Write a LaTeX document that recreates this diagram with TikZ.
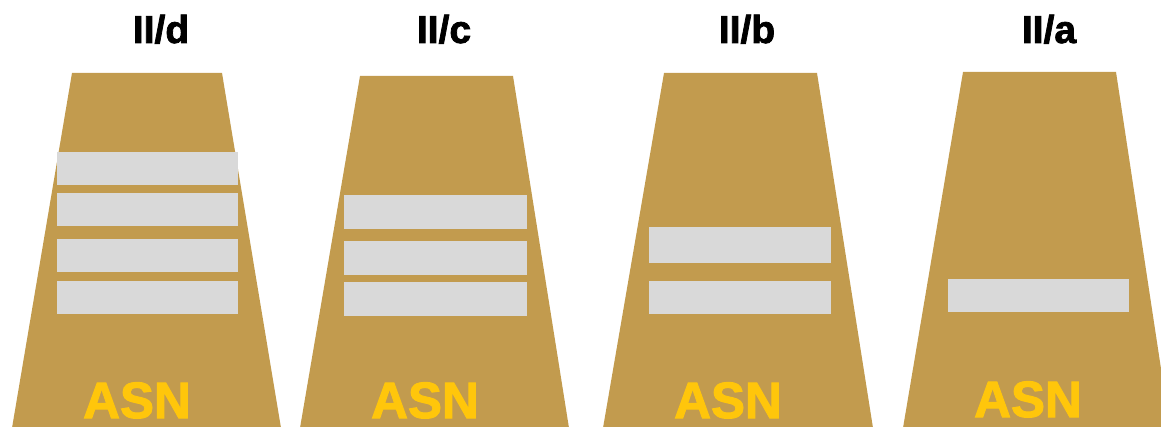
\documentclass[tikz,border=0pt]{standalone}
\usepackage{fontspec}
\setmainfont{Liberation Sans}[BoldFeatures={FakeBold=2}]
\definecolor{khaki}{HTML}{C29B4E}
\definecolor{silver}{HTML}{D9D9D9}
\definecolor{amber}{HTML}{FFC60B}
\tikzset{
  epaulette/.style={fill=khaki, draw=none},
  stripe/.style={fill=silver, draw=none},
  grade/.style={anchor=base, font=\fontsize{39}{39}\selectfont\bfseries, inner sep=0pt},
  corps/.style={anchor=base, font=\fontsize{51}{51}\selectfont\bfseries, text=amber, inner sep=0pt}
}
\begin{document}
\begin{tikzpicture}[x=1pt, y=-1pt]
\useasboundingbox (0,0) rectangle (1161,427);
\clip (0,0) rectangle (1161,427);

% II/d
\fill[epaulette] (72,73) -- (222,73) -- (281,428) -- (12,428) -- cycle;
\foreach \y in {152,193,239,281} \fill[stripe] (57,\y) rectangle (238,\y+33);
\node[grade] (gd) at (161,43) {II/d};
\node[corps] (ad) at (137,418) {ASN};

% II/c
\fill[epaulette] (360,76) -- (513,76) -- (569,428) -- (300,428) -- cycle;
\foreach \y in {195,241,282} \fill[stripe] (344,\y) rectangle (527,\y+34);
\node[grade] (gc) at (444,43) {II/c};
\node[corps] (ac) at (425,418) {ASN};

% II/b
\fill[epaulette] (664,73) -- (817,73) -- (873,428) -- (603,428) -- cycle;
\fill[stripe] (649,227) rectangle (831,263);
\fill[stripe] (649,281) rectangle (831,314);
\node[grade] (gb) at (747,43) {II/b};
\node[corps] (ab) at (728,418) {ASN};

% II/a
\fill[epaulette] (963,72) -- (1116,72) -- (1170,428) -- (903,428) -- cycle;
\fill[stripe] (948,279) rectangle (1129,312);
\node[grade] (ga) at (1049,43) {II/a};
\node[corps] (aa) at (1028,417) {ASN};
\end{tikzpicture}
\end{document}
